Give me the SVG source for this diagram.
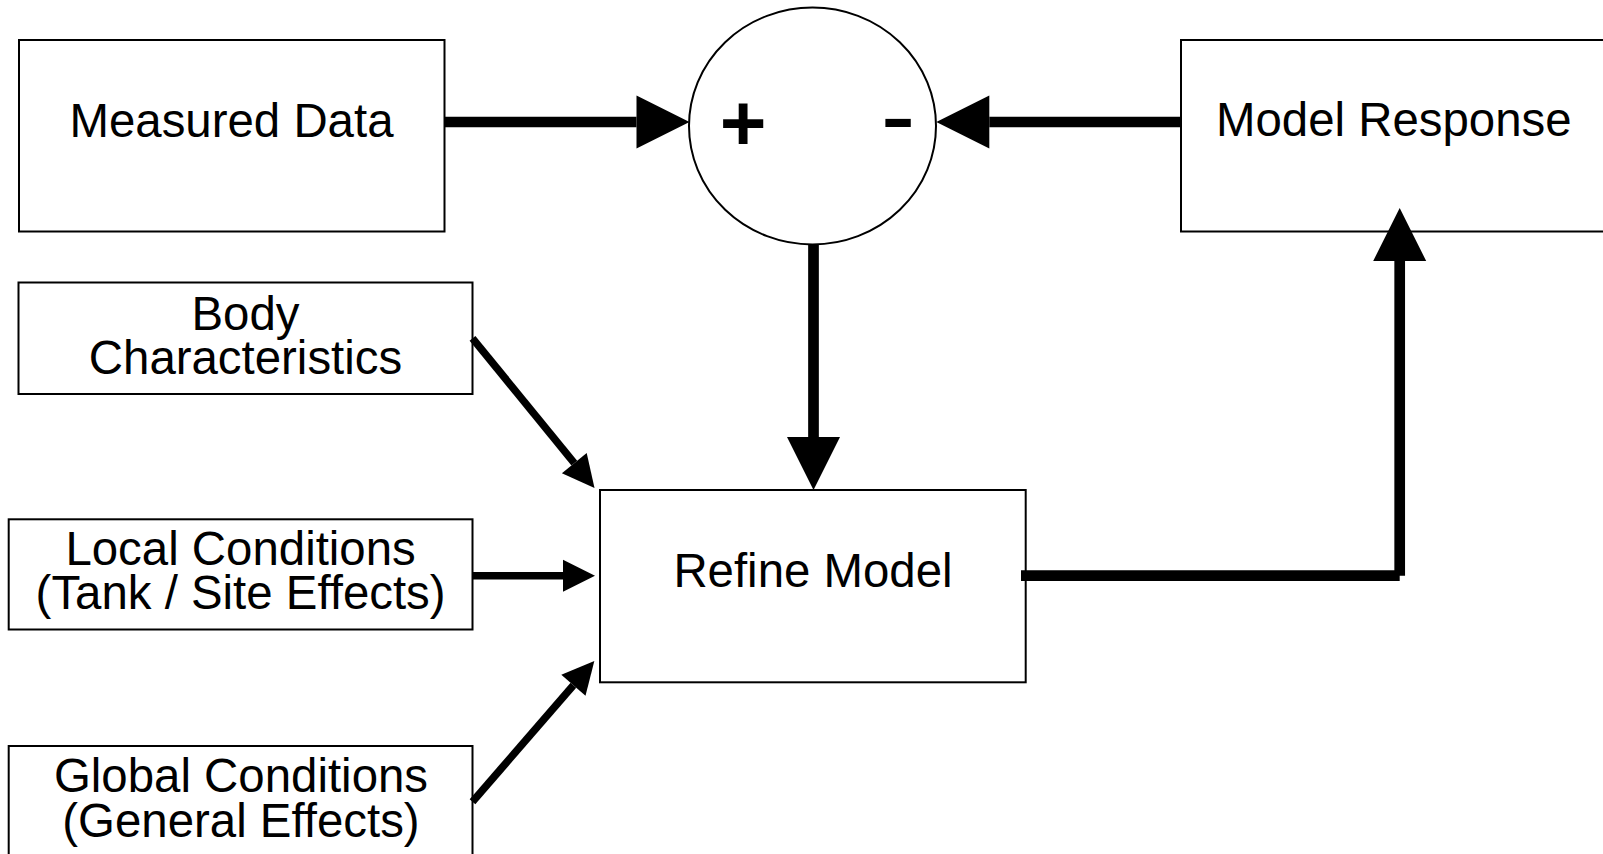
<svg xmlns="http://www.w3.org/2000/svg" width="1603" height="854" viewBox="0 0 1603 854">
<style>
.box{fill:#fff;stroke:#000;stroke-width:2}
.lbl{font-family:"Liberation Sans",Arial,sans-serif;font-size:47.4px;fill:#000}
.mid{text-anchor:middle}
.thick{stroke:#000;stroke-width:10.7;fill:none}
.thin{stroke:#000;stroke-width:7.5;fill:none}
</style>
<defs>
<marker id="bigArrow" markerUnits="userSpaceOnUse" markerWidth="54" markerHeight="54" refX="0" refY="26.5" orient="auto" overflow="visible">
<path d="M0,0 L53,26.5 L0,53 Z" fill="#000"/>
</marker>
<marker id="smallArrow" markerUnits="userSpaceOnUse" markerWidth="33" markerHeight="33" refX="0" refY="16" orient="auto" overflow="visible">
<path d="M0,0 L32,16 L0,32 Z" fill="#000"/>
</marker>
</defs>
<rect width="1603" height="854" fill="#fff"/>

<g id="measured-data">
<rect class="box" x="19" y="40" width="425.5" height="191.5"/>
<text class="lbl mid" x="231.5" y="137">Measured Data</text>
</g>

<g id="summing-junction">
<ellipse cx="812.5" cy="126" rx="123.5" ry="118.5" fill="#fff" stroke="#000" stroke-width="2"/>
<text x="743" y="150" font-family="Liberation Sans,Arial,sans-serif" font-weight="bold" font-size="80" text-anchor="middle">+</text>
<text x="898" y="151" font-family="Liberation Sans,Arial,sans-serif" font-size="104" text-anchor="middle">-</text>
</g>

<g id="model-response">
<rect class="box" x="1181" y="40" width="460" height="191.5"/>
<text class="lbl" x="1216" y="136">Model Response</text>
</g>

<g id="body-characteristics">
<rect class="box" x="18.5" y="282.5" width="454" height="111.5"/>
<text class="lbl mid" x="245.5" y="330">Body</text>
<text class="lbl mid" x="245.5" y="374">Characteristics</text>
</g>

<g id="local-conditions">
<rect class="box" x="8.7" y="519.3" width="463.8" height="110.2"/>
<text class="lbl mid" x="240.6" y="565">Local Conditions</text>
<text class="lbl mid" x="240.6" y="609">(Tank / Site Effects)</text>
</g>

<g id="global-conditions">
<rect class="box" x="8.7" y="746" width="463.8" height="130"/>
<text class="lbl mid" x="241" y="792">Global Conditions</text>
<text class="lbl mid" x="241" y="837">(General Effects)</text>
</g>

<g id="refine-model">
<rect class="box" x="600" y="490" width="425.7" height="192.3"/>
<text class="lbl mid" x="813" y="587">Refine Model</text>
</g>

<g id="connectors">
<line class="thick" x1="444" y1="122" x2="636.5" y2="122" marker-end="url(#bigArrow)"/>
<line class="thick" x1="1181" y1="122" x2="989.3" y2="122" marker-end="url(#bigArrow)"/>
<line class="thick" x1="813.5" y1="244" x2="813.5" y2="437" marker-end="url(#bigArrow)"/>
<line class="thick" x1="1021" y1="575.7" x2="1399.7" y2="575.7"/>
<line class="thick" x1="1399.7" y1="575.7" x2="1399.7" y2="261" marker-end="url(#bigArrow)"/>
<line class="thin" x1="472.5" y1="338.3" x2="574.3" y2="463.2" marker-end="url(#smallArrow)"/>
<line class="thin" x1="472.5" y1="575.7" x2="563" y2="575.7" marker-end="url(#smallArrow)"/>
<line class="thin" x1="472.5" y1="801.7" x2="573.4" y2="685.2" marker-end="url(#smallArrow)"/>
</g>
</svg>
